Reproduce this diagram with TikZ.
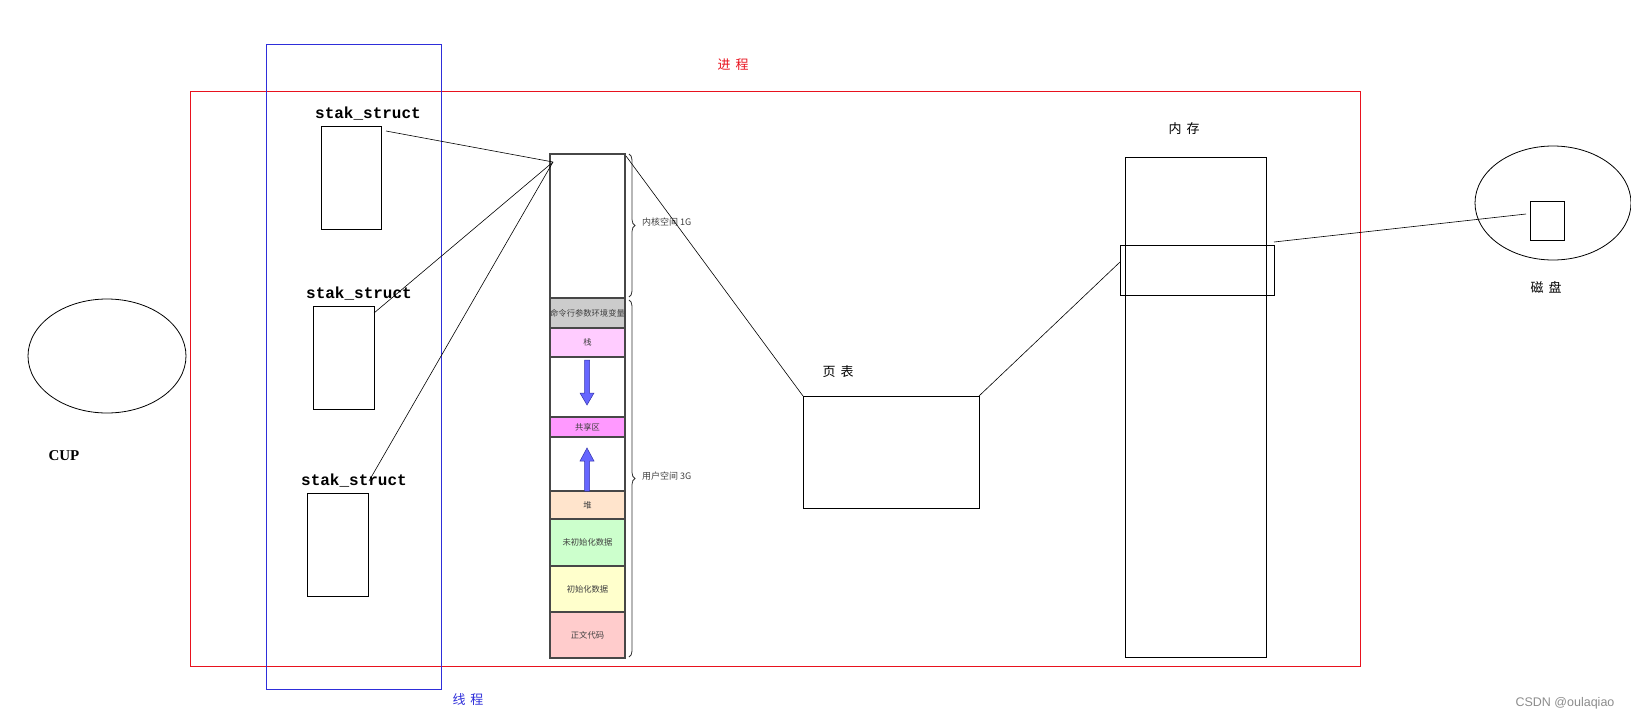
\documentclass[tikz,border=0pt]{standalone}
\usepackage{fontspec}
\setmainfont{Liberation Serif}
\newfontfamily\cjk{Noto Sans CJK SC}
\newfontfamily\monof{Liberation Mono}
\newfontfamily\sansf{Liberation Sans}
\usetikzlibrary{decorations.pathreplacing,shapes.geometric}
\definecolor{procred}{HTML}{E8121E}
\definecolor{thrblue}{HTML}{2E2EDA}
\definecolor{cmdgray}{HTML}{CCCCCC}
\definecolor{stackpink}{HTML}{FFCCFF}
\definecolor{sharedmag}{HTML}{FF99FF}
\definecolor{heappeach}{HTML}{FFE4CC}
\definecolor{bssgreen}{HTML}{CCFFCC}
\definecolor{datayellow}{HTML}{FFFFCC}
\definecolor{textpink}{HTML}{FFCCCC}
\definecolor{arrowfill}{HTML}{6666FF}
\definecolor{arrowline}{HTML}{3333AA}
\begin{document}
\begin{tikzpicture}[x=1pt,y=-1pt,
  box/.style={draw=black, line width=0.9pt, inner sep=0pt, outer sep=0pt, anchor=north west},
  frame/.style={line width=0.9pt, inner sep=0pt, outer sep=0pt, anchor=north west},
  seg/.style={draw=black!72, line width=1.3pt, inner sep=0pt, outer sep=0pt, anchor=north west,
    minimum width=75pt, font=\cjk\fontsize{8.3}{9}\selectfont, text=black!75},
  conn/.style={draw=black, line width=0.6pt},
  lbl/.style={font=\cjk\fontsize{13}{14}\selectfont, inner sep=0pt},
  sslbl/.style={font=\monof\bfseries\fontsize{16}{17}\selectfont, inner sep=0pt},
  brlbl/.style={font=\cjk\fontsize{9}{10}\selectfont, text=black!75, inner sep=0pt, anchor=west},
  bracestyle/.style={draw=black!80, line width=0.8pt, decorate, decoration={brace, amplitude=6pt}},
  blockarrow/.style={fill=arrowfill, draw=arrowline, line width=0.5pt}
]
\useasboundingbox (0,0) rectangle (1631,723);

% frames
\node[frame, draw=procred, minimum width=1170pt, minimum height=575pt] (proc) at (190,91) {};
\node[frame, draw=thrblue, minimum width=175pt, minimum height=645pt] (thr) at (266,44) {};
\node[lbl, text=procred] (proclbl) at (733,65) {进\hspace{5pt}程};
\node[lbl, text=thrblue] (thrlbl) at (468,700) {线\hspace{5pt}程};

% CPU
\node[draw=black, line width=0.8pt, ellipse, minimum width=158pt, minimum height=114pt, inner sep=0pt] (cpu) at (107,356) {};
\node[font=\bfseries\fontsize{15}{16}\selectfont, inner sep=0pt] (cpulbl) at (64,456) {CUP};

% thread structures
\node[sslbl] (ss1lbl) at (368,114) {stak\_struct};
\node[box, minimum width=60pt, minimum height=103pt] (s1) at (321,126) {};
\node[sslbl] (ss2lbl) at (359,294) {stak\_struct};
\node[box, minimum width=61pt, minimum height=103pt] (s2) at (313,306) {};
\node[sslbl] (ss3lbl) at (354,481) {stak\_struct};
\node[box, minimum width=61pt, minimum height=103pt] (s3) at (307,493) {};

% memory layout column
\node[seg, fill=white, minimum height=144pt] (kern) at (550,154) {};
\node[seg, fill=cmdgray, minimum height=30pt] (cmd) at (550,298) {命令行参数环境变量};
\node[seg, fill=stackpink, minimum height=29pt] (stk) at (550,328) {栈};
\node[seg, fill=white, minimum height=60pt] (gap1) at (550,357) {};
\node[seg, fill=sharedmag, minimum height=20pt] (shr) at (550,417) {共享区};
\node[seg, fill=white, minimum height=54pt] (gap2) at (550,437) {};
\node[seg, fill=heappeach, minimum height=28pt] (heap) at (550,491) {堆};
\node[seg, fill=bssgreen, minimum height=47pt] (bss) at (550,519) {未初始化数据};
\node[seg, fill=datayellow, minimum height=46pt] (dat) at (550,566) {初始化数据};
\node[seg, fill=textpink, minimum height=46pt] (txt) at (550,612) {正文代码};

% growth arrows
\draw[blockarrow] (584.5,360) -- (589.5,360) -- (589.5,393) -- (594,393) -- (587,405) -- (580,393) -- (584.5,393) -- cycle;
\draw[blockarrow] (584.5,491) -- (589.5,491) -- (589.5,461) -- (594,461) -- (587,448) -- (580,461) -- (584.5,461) -- cycle;

% braces
\coordinate (kb1) at (629,154);
\coordinate (kb2) at (629,297);
\coordinate (ub1) at (629,300);
\coordinate (ub2) at (629,657);
\draw[bracestyle] (kb1) -- (kb2);
\draw[bracestyle] (ub1) -- (ub2);
\node[brlbl] (kernlbl) at (642,222) {内核空间 1G};
\node[brlbl] (userlbl) at (642,476) {用户空间 3G};

% page table
\node[lbl] (ptlbl) at (838,372) {页\hspace{5pt}表};
\node[box, minimum width=176pt, minimum height=112pt] (pt) at (803,396) {};

% memory
\node[lbl] (memlbl) at (1184,129) {内\hspace{5pt}存};
\node[box, minimum width=141pt, minimum height=500pt] (mem) at (1125,157) {};
\node[box, minimum width=154pt, minimum height=50pt] (page) at (1120,245) {};

% disk
\node[draw=black, line width=0.8pt, ellipse, minimum width=156pt, minimum height=114pt, inner sep=0pt] (disk) at (1553,203) {};
\node[box, minimum width=34pt, minimum height=39pt] (blk) at (1530,201) {};
\node[lbl] (disklbl) at (1546,287) {磁\hspace{5pt}盘};

% connectors
\coordinate (colin) at (553,162);
\coordinate (s1out) at (386,131);
\coordinate (s2out) at (374,313);
\coordinate (s3out) at (369,481);
\draw[conn] (s1out) -- (colin);
\draw[conn] (s2out) -- (colin);
\draw[conn] (s3out) -- (colin);
\coordinate (colout) at (626,156);
\draw[conn] (colout) -- (pt.north west);
\coordinate (pagein) at (1120,262);
\draw[conn] (pt.north east) -- (pagein);
\coordinate (pageout) at (1274,242);
\coordinate (blkin) at (1526,214);
\draw[conn] (pageout) -- (blkin);

% watermark
\node[font=\sansf\fontsize{12.5}{13}\selectfont, text=black!45, inner sep=0pt] (wm) at (1565,703) {CSDN @oulaqiao};
\end{tikzpicture}
\end{document}
